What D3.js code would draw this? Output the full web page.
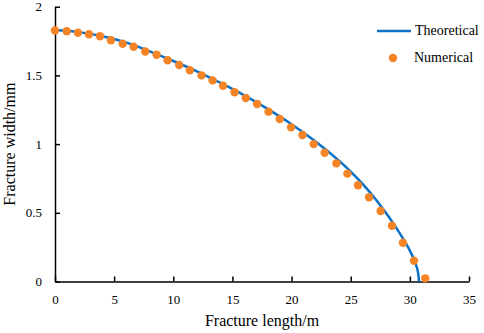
<!DOCTYPE html>
<html>
<head>
<meta charset="utf-8">
<script src="https://cdn.jsdelivr.net/npm/d3@7"></script>
<style>
  body { margin: 0; background: #fff; }
  svg text { font-family: "Liberation Serif", "Times New Roman", serif; fill: #000; }
</style>
</head>
<body>
<div id="chart"></div>
<script>
// theoretical curve
let theoX = [0, 2, 4, 6, 8, 10, 12, 14, 16, 18, 20, 22, 24, 25, 26, 27, 27.8, 28.7, 29.4, 30.0, 30.35, 30.6, 30.72, 30.77];
let theoW = [1.83, 1.815, 1.785, 1.74, 1.675, 1.605, 1.53, 1.445, 1.355, 1.255, 1.145, 1.02, 0.88, 0.8, 0.71, 0.61, 0.52, 0.41, 0.315, 0.225, 0.16, 0.1, 0.05, 0];

// numerical points
let numX = [0, 0.99, 1.94, 2.87, 3.8, 4.73, 5.72, 6.65, 7.63, 8.59, 9.52, 10.5, 11.4, 12.39, 13.32, 14.21, 15.18,
    16.13, 17.09, 18.05, 19.0, 19.96, 20.92, 21.87, 22.8, 23.79, 24.72, 25.62, 26.55, 27.53, 28.49, 29.42, 30.35, 31.3];
let numW = [1.827, 1.822, 1.81, 1.8, 1.785, 1.756, 1.73, 1.708, 1.674, 1.65, 1.61, 1.576, 1.538, 1.5, 1.464, 1.425, 1.377,
    1.336, 1.292, 1.236, 1.183, 1.122, 1.066, 1.0, 0.937, 0.86, 0.785, 0.7, 0.613, 0.513, 0.406, 0.282, 0.151, 0.023];

let xTicks = [0, 5, 10, 15, 20, 25, 30, 35];
let yTicks = [0, 0.5, 1, 1.5, 2];

let width = 484,
    height = 333,
    margin = {left: 55, top: 6.7, right: 15, bottom: 51.5};

let svg = d3.select('#chart').append('svg')
    .attr('width', width)
    .attr('height', height);

let xScale = d3.scaleLinear()
    .domain([0, 35])
    .range([margin.left, width - margin.right]);

let yScale = d3.scaleLinear()
    .domain([0, 2])
    .range([height - margin.bottom, margin.top]);

let axisStyle = g => {
    g.attr('font-family', null).attr('font-size', null);
    g.select('.domain').attr('stroke', '#000').attr('stroke-width', 1.5);
    g.selectAll('.tick line').attr('stroke', '#000').attr('stroke-width', 1.5);
    g.selectAll('.tick text')
        .style('font-family', '"Liberation Serif", serif')
        .style('font-size', '13px');
};

svg.append('g')
    .attr('transform', `translate(0, ${yScale(0)})`)
    .call(d3.axisBottom(xScale).tickValues(xTicks).tickFormat(d => d)
        .tickSizeInner(-5).tickSizeOuter(0).tickPadding(13))
    .call(axisStyle);

svg.append('g')
    .attr('transform', `translate(${xScale(0)}, 0)`)
    .call(d3.axisLeft(yScale).tickValues(yTicks).tickFormat(d => d)
        .tickSizeInner(-5).tickSizeOuter(0).tickPadding(13))
    .call(axisStyle);

let theo = theoX.map((x, i) => ({x: x, w: theoW[i]}));
let num = numX.map((x, i) => ({x: x, w: numW[i]}));

let line = d3.line()
    .x(d => xScale(d.x))
    .y(d => yScale(d.w))
    .curve(d3.curveCatmullRom.alpha(0.5));

svg.append('path')
    .datum(theo)
    .attr('d', line)
    .attr('fill', 'none')
    .attr('stroke', '#0a70c8')
    .attr('stroke-width', 2.5);

svg.append('g')
    .selectAll('circle')
    .data(num)
    .join('circle')
    .attr('cx', d => xScale(d.x))
    .attr('cy', d => yScale(d.w))
    .attr('r', 4.2)
    .attr('fill', '#f58426');

// axis titles
svg.append('text')
    .attr('x', (xScale(0) + xScale(35)) / 2)
    .attr('y', 326)
    .attr('text-anchor', 'middle')
    .style('font-size', '16px')
    .text('Fracture length/m');

svg.append('text')
    .attr('transform', `translate(15, ${(yScale(0) + yScale(2)) / 2}) rotate(-90)`)
    .attr('text-anchor', 'middle')
    .style('font-size', '16px')
    .text('Fracture width/mm');

// legend
let legend = svg.append('g');
legend.append('line')
    .attr('x1', 377).attr('x2', 411)
    .attr('y1', 31).attr('y2', 31)
    .attr('stroke', '#0a70c8')
    .attr('stroke-width', 2.5);
legend.append('text')
    .attr('x', 415).attr('y', 31).attr('dy', '0.32em')
    .style('font-size', '14px')
    .text('Theoretical');
legend.append('circle')
    .attr('cx', 393).attr('cy', 58)
    .attr('r', 4.2)
    .attr('fill', '#f58426');
legend.append('text')
    .attr('x', 414).attr('y', 58).attr('dy', '0.32em')
    .style('font-size', '14px')
    .text('Numerical');
</script>
</body>
</html>
